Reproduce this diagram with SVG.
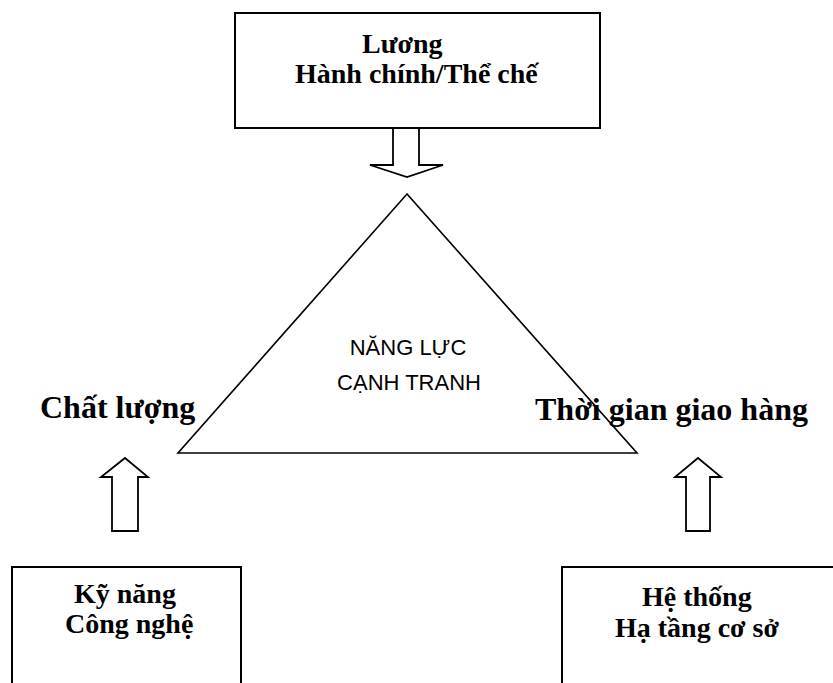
<svg xmlns="http://www.w3.org/2000/svg" width="833" height="683" viewBox="0 0 833 683">
<style>
.box{fill:#fff;stroke:#000;stroke-width:2}
.arr{fill:#fff;stroke:#000;stroke-width:1.8;stroke-linejoin:miter}
.tri{fill:#fff;stroke:#000;stroke-width:1.6}
.b{font-family:"Liberation Serif","Times New Roman",serif;font-weight:bold;fill:#000}
.s{font-family:"Liberation Sans",Arial,sans-serif;fill:#000}
</style>
<rect width="833" height="683" fill="#fff"/>
<g id="node-top">
<rect class="box" x="235" y="13" width="365" height="115"/>
<text class="b" x="362" y="53" font-size="28">Lương</text>
<text class="b" x="295" y="83" font-size="28">Hành chính/Thể chế</text>
</g>
<g id="node-triangle">
<polygon class="tri" points="407,194 178,453 637,453"/>
<text class="s" x="408" y="355" font-size="22" text-anchor="middle">NĂNG LỰC</text>
<text class="s" x="409" y="390" font-size="22" text-anchor="middle">CẠNH TRANH</text>
</g>
<g id="node-left-label">
<text class="b" x="40" y="418" font-size="32">Chất lượng</text>
</g>
<g id="node-right-label">
<text class="b" x="535" y="420" font-size="32">Thời gian giao hàng</text>
</g>
<g id="node-bottom-left">
<rect class="box" x="12" y="567" width="229" height="130"/>
<text class="b" x="74" y="603" font-size="28">Kỹ năng</text>
<text class="b" x="65" y="633" font-size="28">Công nghệ</text>
</g>
<g id="node-bottom-right">
<rect class="box" x="562" y="567" width="290" height="130"/>
<text class="b" x="642" y="606" font-size="28">Hệ thống</text>
<text class="b" x="615" y="637" font-size="28">Hạ tầng cơ sở</text>
</g>
<g id="connectors">
<polygon class="arr" points="393,128 419,128 419,165 443,165 407,177 370,165 393,165"/>
<polygon class="arr" points="125,458 148,477 138,477 138,531 112,531 112,477 101,477"/>
<polygon class="arr" points="698,458 721,477 710,477 710,531 686,531 686,477 675,477"/>
</g>
</svg>
